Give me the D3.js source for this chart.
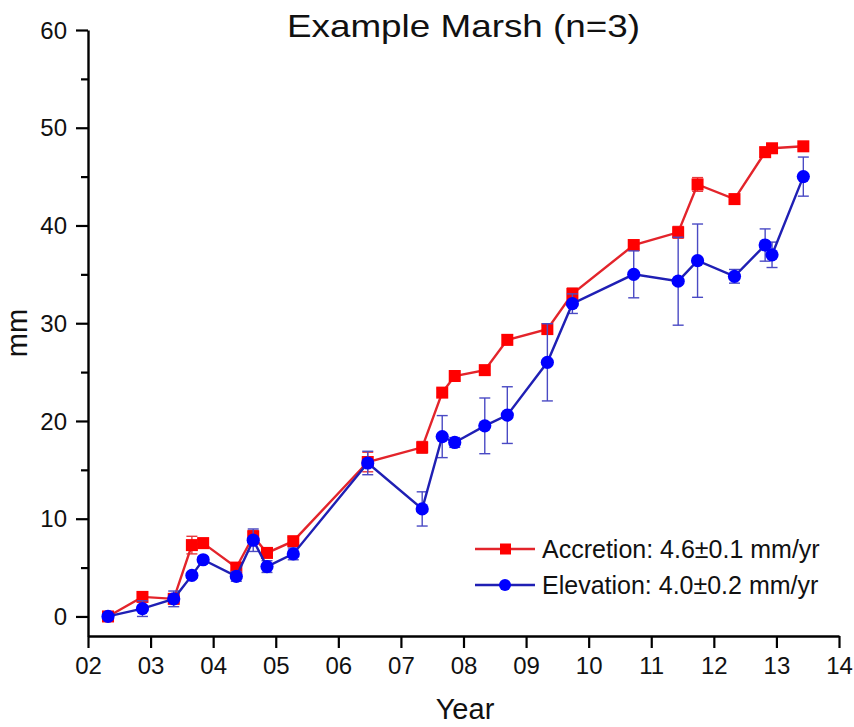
<!DOCTYPE html>
<html>
<head>
<meta charset="utf-8">
<script src="https://cdn.jsdelivr.net/npm/d3@7/dist/d3.min.js"></script>
<style>
  html, body { margin: 0; padding: 0; background: #fff; }
  svg { display: block; font-family: "Liberation Sans", Arial, sans-serif; }
</style>
</head>
<body>
<svg id="chart" width="854" height="727"></svg>
<script>
// ---- data ----
const dates = [2.32, 2.87, 3.37, 3.66, 3.84, 4.37, 4.64, 4.86, 5.28, 6.47, 7.34, 7.66, 7.86, 8.34, 8.70, 9.34, 9.74, 10.72, 11.43, 11.74, 12.33, 12.82, 12.93, 13.43];
const accretion = [0, 2.0, 1.8, 7.3, 7.5, 5.0, 8.2, 6.5, 7.7, 15.8, 17.3, 22.9, 24.6, 25.2, 28.3, 29.4, 33.0, 38.0, 39.3, 44.2, 42.7, 47.5, 47.9, 48.1];
const accretionErr = [0.2, 0.3, 0.3, 0.9, 0.5, 0.3, 0.6, 0.4, 0.4, 1.0, 0.6, 0.4, 0.4, 0.4, 0.5, 0.4, 0.6, 0.4, 0.6, 0.7, 0.3, 0.5, 0.4, 0.3];
const elevation = [0, 0.8, 1.8, 4.2, 5.8, 4.1, 7.8, 5.1, 6.4, 15.7, 11.0, 18.4, 17.8, 19.5, 20.6, 26.0, 32.0, 35.0, 34.3, 36.4, 34.8, 38.0, 37.0, 45.0];
const elevationErr = [0.2, 0.8, 0.8, 0.3, 0.3, 0.5, 1.15, 0.6, 0.6, 1.2, 1.75, 2.15, 0.5, 2.85, 2.9, 3.95, 1.0, 2.4, 4.5, 3.75, 0.7, 1.65, 1.3, 2.0];
const xTicks = [2, 3, 4, 5, 6, 7, 8, 9, 10, 11, 12, 13, 14];
const xTickLabels = ["02", "03", "04", "05", "06", "07", "08", "09", "10", "11", "12", "13", "14"];
const yTicks = [0, 10, 20, 30, 40, 50, 60];
const yMinorTicks = [5, 15, 25, 35, 45, 55];
const seriesNames = ["Accretion: 4.6\u00B10.1 mm/yr", "Elevation: 4.0\u00B10.2 mm/yr"];
const title = "Example Marsh (n=3)";

const svg = d3.select("#chart");
const x = d3.scaleLinear().domain([2, 14]).range([88, 839]);
const y = d3.scaleLinear().domain([-2, 60]).range([636, 30]);

const RED = "#ff0000", RED_LINE = "#e3242b", RED_ERR = "#e8393e";
const BLUE = "#0000ff", BLUE_LINE = "#1f1fb4", BLUE_ERR = "#4a4ac4";

// ---- axes ----
const yAxis = svg.append("g").attr("transform", `translate(${x.range()[0]},0)`)
  .call(d3.axisLeft(y).tickValues(yTicks).tickSize(12).tickSizeOuter(0).tickPadding(9).tickFormat(d3.format("d")));
svg.append("g").attr("transform", `translate(${x.range()[0]},0)`)
  .call(d3.axisLeft(y).tickValues(yMinorTicks).tickSize(7).tickSizeOuter(0).tickFormat(""))
  .call(g => g.select(".domain").remove());
const xAxis = svg.append("g").attr("transform", `translate(0,${y.range()[0]})`)
  .call(d3.axisBottom(x).tickValues(xTicks).tickSize(12).tickSizeOuter(0).tickPadding(8)
    .tickFormat((d, i) => xTickLabels[i]));

svg.selectAll(".domain").attr("stroke", "#000").attr("stroke-width", 2.4);
svg.selectAll(".tick line").attr("stroke", "#000").attr("stroke-width", 2.2);
svg.selectAll(".tick text").attr("fill", "#111").style("font-size", "24px")
  .style("font-family", '"Liberation Sans", Arial, sans-serif');
yAxis.selectAll(".tick text").attr("dy", "0.34em");
xAxis.selectAll(".tick text").attr("dy", "0.76em");

// ---- titles ----
svg.append("text").attr("x", (x.range()[0] + x.range()[1]) / 2).attr("y", 37)
  .attr("text-anchor", "middle").style("font-size", "32px").attr("fill", "#111")
  .attr("textLength", 353).attr("lengthAdjust", "spacingAndGlyphs").text(title);
svg.append("text").attr("x", 465).attr("y", 719)
  .attr("text-anchor", "middle").style("font-size", "29px").attr("fill", "#111").text("Year");
svg.append("text").attr("transform", `translate(27,${(y.range()[0] + y.range()[1]) / 2}) rotate(-90)`)
  .attr("text-anchor", "middle").style("font-size", "29px").attr("fill", "#111").text("mm");

// ---- series ----
function drawSeries(vals, errs, lineColor, errColor, markerColor, shape) {
  const g = svg.append("g");
  const pts = dates.map((d, i) => ({ d, v: vals[i], e: errs[i] }));
  // error bars
  const eb = g.selectAll("g.eb").data(pts).join("g");
  eb.append("line").attr("x1", p => x(p.d)).attr("x2", p => x(p.d))
    .attr("y1", p => y(p.v - p.e)).attr("y2", p => y(p.v + p.e))
    .attr("stroke", errColor).attr("stroke-width", 1.4);
  [1, -1].forEach(s => {
    eb.append("line").attr("x1", p => x(p.d) - 5.5).attr("x2", p => x(p.d) + 5.5)
      .attr("y1", p => y(p.v + s * p.e)).attr("y2", p => y(p.v + s * p.e))
      .attr("stroke", errColor).attr("stroke-width", 1.4);
  });
  g.append("path").datum(pts)
    .attr("d", d3.line().x(p => x(p.d)).y(p => y(p.v)))
    .attr("fill", "none").attr("stroke", lineColor).attr("stroke-width", 2.4);
  if (shape === "square") {
    g.selectAll("rect").data(pts).join("rect")
      .attr("x", p => x(p.d) - 6).attr("y", p => y(p.v) - 6)
      .attr("width", 12).attr("height", 12).attr("fill", markerColor);
  } else {
    g.selectAll("circle").data(pts).join("circle")
      .attr("cx", p => x(p.d)).attr("cy", p => y(p.v)).attr("r", 6.6).attr("fill", markerColor);
  }
}
drawSeries(accretion, accretionErr, RED_LINE, RED_ERR, RED, "square");
drawSeries(elevation, elevationErr, BLUE_LINE, BLUE_ERR, BLUE, "circle");

// ---- legend ----
const legend = svg.append("g");
const legY = [549, 585];
const legendColors = [[RED_LINE, RED, "square"], [BLUE_LINE, BLUE, "circle"]];
seriesNames.forEach((name, i) => {
  const [lc, mc, shape] = legendColors[i];
  legend.append("line").attr("x1", 475).attr("x2", 535).attr("y1", legY[i]).attr("y2", legY[i])
    .attr("stroke", lc).attr("stroke-width", 2.4);
  if (shape === "square") {
    legend.append("rect").attr("x", 500).attr("y", legY[i] - 5.5).attr("width", 11).attr("height", 11).attr("fill", mc);
  } else {
    legend.append("circle").attr("cx", 505).attr("cy", legY[i]).attr("r", 6).attr("fill", mc);
  }
  legend.append("text").attr("x", 542).attr("y", legY[i]).attr("dy", "0.36em")
    .style("font-size", "25px").attr("fill", "#111").text(name);
});
</script>
</body>
</html>
